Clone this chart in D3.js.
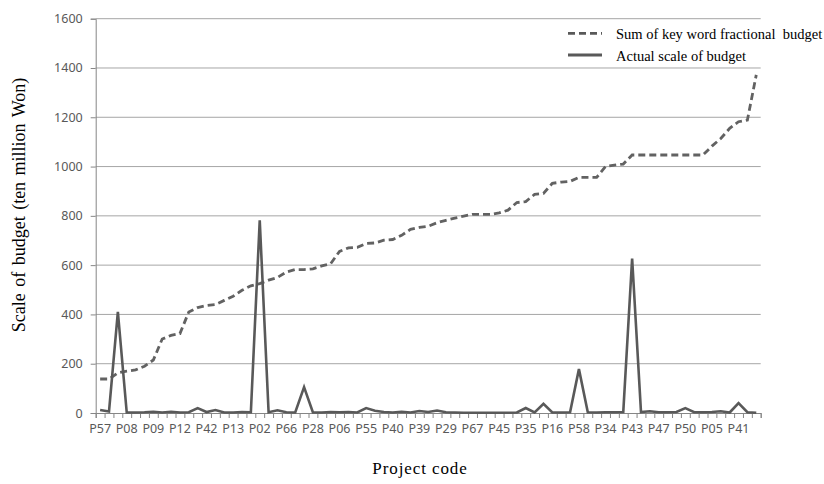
<!DOCTYPE html>
<html><head><meta charset="utf-8">
<script src="https://cdn.jsdelivr.net/npm/d3@7"></script>
<style>body{margin:0;background:#fff}</style>
</head><body><svg id="c" width="824" height="484"></svg>
<script>
// Visible tick labels (every 3rd project on the axis)
const tickLabels = ["P57","P08","P09","P12","P42","P13","P02","P66","P28","P06","P55","P40","P39","P29","P67","P45","P35","P16","P58","P34","P43","P47","P50","P05","P41"];
// Sum of key word fractional budget (75 projects, sorted)
const keywordSum = [138,138,163,170,175,190,215,300,315,322,
  410,428,436,440,457,474,498,516,525,539,
  550,572,582,582,585,597,606,656,670,672,
  688,690,701,704,721,745,753,758,772,782,
  791,799,806,806,806,812,823,854,858,887,
  891,932,937,940,956,956,956,1000,1006,1010,
  1047,1047,1047,1047,1047,1047,1047,1047,1047,1083,
  1114,1155,1182,1189,1372];
// Actual scale of budget
const actualBudget = [12,6,410,2,2,3,5,2,5,2,
  3,20,4,12,2,2,4,3,782,3,
  11,3,2,105,2,2,4,3,4,2,
  20,9,4,2,5,2,8,4,10,3,
  2,1,1,1,1,1,1,2,20,2,
  37,2,2,3,178,3,2,3,3,4,
  627,4,7,3,3,4,20,3,3,4,
  7,2,40,3,1];
const yTicks = [0,200,400,600,800,1000,1200,1400,1600];
const seriesNames = ["Sum of key word fractional  budget","Actual scale of budget"];

const svg = d3.select("#c");
const L = 95.7, R = 760.7, T = 18.7, B = 413;
const n = keywordSum.length;
const idx = d3.range(n);
const xBand = d3.scaleBand().domain(idx).range([L, R]);
const xEdge = d3.scaleLinear().domain([0, n]).range([L, R]);
const y = d3.scaleLinear().domain([0, 1600]).range([B, T]);
const cx = i => xBand(i) + xBand.bandwidth() / 2;

const grey = "#595959";
// gridlines
svg.append("g").selectAll("line").data(yTicks.filter(d => d > 0)).join("line")
  .attr("x1", L).attr("x2", R).attr("y1", d => y(d)).attr("y2", d => y(d))
  .attr("stroke", "#a6a6a6").attr("stroke-width", 1);

// y axis
const yAx = svg.append("g").attr("transform", `translate(${L},0)`)
  .call(d3.axisLeft(y).tickValues(yTicks).tickSize(5).tickPadding(8).tickFormat(d3.format("d")));
yAx.select(".domain").attr("stroke", "#868686");
yAx.selectAll(".tick line").attr("stroke", "#868686");
yAx.selectAll("text").attr("font-family", "'Noto Sans', sans-serif").attr("font-size", 12.5).attr("fill", grey);

// x axis ticks at category boundaries
const xTickAx = svg.append("g").attr("transform", `translate(0,${B})`)
  .call(d3.axisBottom(xEdge).tickValues(d3.range(n + 1)).tickSize(5).tickFormat(""));
xTickAx.select(".domain").attr("stroke", "#868686");
xTickAx.selectAll(".tick line").attr("stroke", "#868686");
// x labels
const xLab = svg.append("g").attr("transform", `translate(0,${B})`)
  .call(d3.axisBottom(xBand).tickValues(idx.filter(i => i % 3 === 0)).tickSize(0).tickPadding(11)
    .tickFormat(i => tickLabels[i / 3]));
xLab.select(".domain").remove();
xLab.selectAll("text").attr("font-family", "'Noto Sans', sans-serif").attr("font-size", 12.5).attr("fill", grey);

// lines
const line = d3.line().x((d, i) => cx(i)).y(d => y(d));
svg.append("path").datum(keywordSum).attr("d", line).attr("fill", "none")
  .attr("stroke", "#626262").attr("stroke-width", 2.8).attr("stroke-dasharray", "7,4");
svg.append("path").datum(actualBudget).attr("d", line).attr("fill", "none")
  .attr("stroke", grey).attr("stroke-width", 2.6).attr("stroke-linejoin", "miter");

// legend
const lg = svg.append("g");
[0, 1].forEach(k => {
  const yy = 33.3 + k * 21.7;
  lg.append("line").attr("x1", 568).attr("x2", 602).attr("y1", yy).attr("y2", yy)
    .attr("stroke", grey).attr("stroke-width", 2.8).attr("stroke-dasharray", k === 0 ? "7,4" : null);
  lg.append("text").attr("x", 616).attr("y", yy + 5.5).text(seriesNames[k])
    .attr("font-family", "'Liberation Serif', 'Times New Roman', serif").attr("font-size", 14.5)
    .attr("fill", "#000").style("white-space", "pre");
});

// axis titles
svg.append("text").attr("transform", "translate(24.5,205) rotate(-90)").attr("text-anchor", "middle")
  .attr("font-family", "'Liberation Serif', 'Times New Roman', serif").attr("font-size", 18)
  .attr("word-spacing", 2)
  .text("Scale of budget (ten million Won)");
svg.append("text").attr("x", 420).attr("y", 473.5).attr("text-anchor", "middle")
  .attr("font-family", "'Liberation Serif', 'Times New Roman', serif").attr("font-size", 17)
  .attr("letter-spacing", 0.9)
  .text("Project code");
</script></body></html>
